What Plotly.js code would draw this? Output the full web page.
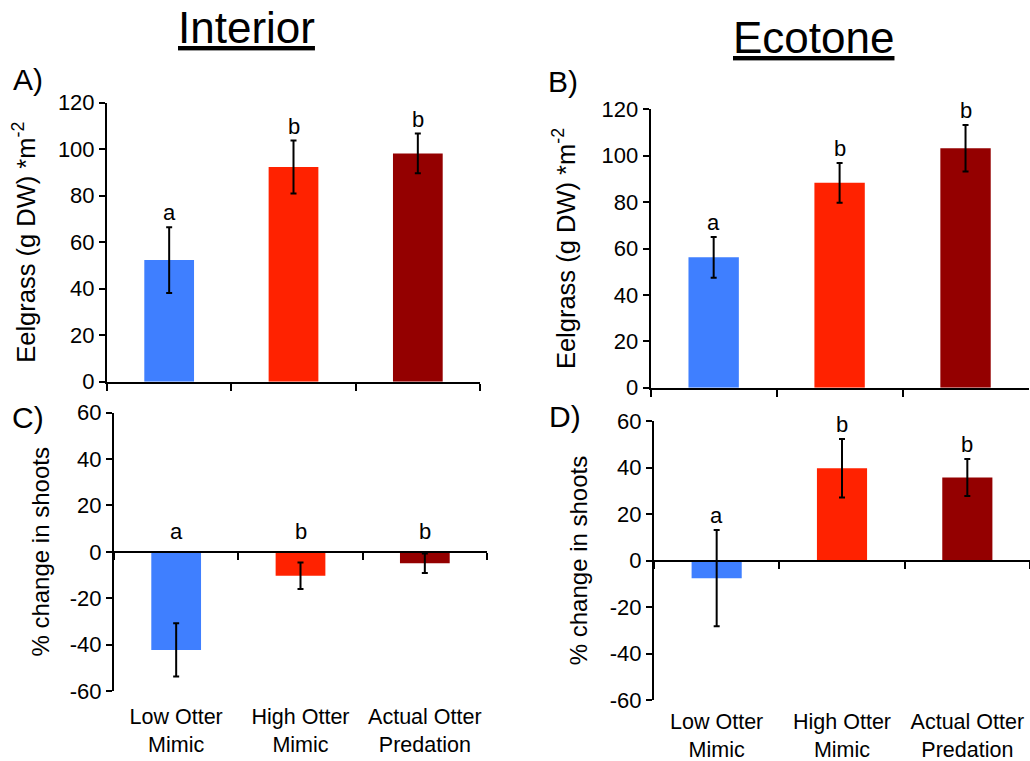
<!DOCTYPE html>
<html>
<head>
<meta charset="utf-8">
<script src="https://cdn.plot.ly/plotly-3.0.1.min.js"></script>
<style>html,body{margin:0;padding:0;background:#fff;}#chart{width:1030px;height:761px;}</style>
</head>
<body>
<div id="chart"></div>
<script>
const categories = ['Low Otter<br>Mimic', 'High Otter<br>Mimic', 'Actual Otter<br>Predation'];
const barColors = ['#3f7fff', '#ff2200', '#940000'];

const biomassTickVals = [0, 20, 40, 60, 80, 100, 120];
const biomassTickText = ['0', '20', '40', '60', '80', '100', '120'];
const shootsTickVals = [-60, -40, -20, 0, 20, 40, 60];
const shootsTickText = ['-60', '-40', '-20', '0', '20', '40', '60'];

const interiorBiomass = [52.3, 92.3, 98.2];
const interiorBiomassErr = [14.1, 11.4, 8.5];
const interiorBiomassLetters = ['a', 'b', 'b'];

const ecotoneBiomass = [56.2, 88.3, 103.2];
const ecotoneBiomassErr = [8.8, 8.6, 10.0];
const ecotoneBiomassLetters = ['a', 'b', 'b'];

const interiorShoots = [-42.3, -10.3, -4.9];
const interiorShootsErr = [11.5, 5.7, 4.2];
const interiorShootsLetters = ['a', 'b', 'b'];

const ecotoneShoots = [-7.6, 39.7, 35.7];
const ecotoneShootsErr = [20.7, 12.6, 8.0];
const ecotoneShootsLetters = ['a', 'b', 'b'];

const FONT = 'Liberation Sans, Arial, Helvetica, sans-serif';

function barTrace(vals, errs, xa, ya) {
  return {
    type: 'bar', x: categories, y: vals, xaxis: xa, yaxis: ya,
    width: 0.4,
    marker: {color: barColors, line: {width: 0}},
    error_y: {type: 'data', array: errs, visible: true, color: '#000', thickness: 2, width: 3},
    hoverinfo: 'skip', showlegend: false
  };
}

const traces = [
  barTrace(interiorBiomass, interiorBiomassErr, 'x', 'y'),
  barTrace(ecotoneBiomass, ecotoneBiomassErr, 'x2', 'y2'),
  barTrace(interiorShoots, interiorShootsErr, 'x3', 'y3'),
  barTrace(ecotoneShoots, ecotoneShootsErr, 'x4', 'y4')
];

const domA = {x: [107/1030, 480/1030], y: [1-381.7/761, 1-102.7/761]};
const domB = {x: [650.7/1030, 1028.5/1030], y: [1-387.7/761, 1-109.3/761]};
const domC = {x: [114/1030, 487/1030], y: [1-691/761, 1-412.7/761]};
const domD = {x: [654/1030, 1.0], y: [1-700/761, 1-421/761]};

function yax(dom, range, tv, tt, title, tsize, standoff, anchor) {
  return {
    domain: dom, range: range, anchor: anchor,
    tickmode: 'array', tickvals: tv, ticktext: tt,
    showline: true, linecolor: '#000', linewidth: 2,
    ticks: 'outside', ticklen: 6, tickwidth: 2, tickcolor: '#000',
    showgrid: false, zeroline: false,
    tickfont: {family: FONT, size: 22, color: '#000'},
    title: {text: title, font: {family: FONT, size: tsize, color: '#000'}, standoff: standoff},
    fixedrange: true
  };
}

function xax(dom, anchor, extra) {
  return Object.assign({
    domain: dom, anchor: anchor, type: 'category',
    categoryorder: 'array', categoryarray: categories, range: [-0.5, 2.5],
    showline: true, linecolor: '#000', linewidth: 2,
    ticks: 'outside', ticklen: 7, tickwidth: 2, tickcolor: '#000', tickson: 'boundaries',
    showgrid: false, zeroline: false,
    tickfont: {family: FONT, size: 21.5, color: '#000'},
    fixedrange: true
  }, extra);
}

const midC = (domC.y[0] + domC.y[1]) / 2;
const midD = (domD.y[0] + domD.y[1]) / 2;

const annotations = [];
function addLetters(vals, errs, letters, xa, ya) {
  vals.forEach((v, i) => {
    const top = v + errs[i];
    annotations.push({
      x: categories[i], y: Math.max(top, 0), xref: xa, yref: ya,
      text: letters[i], showarrow: false, yanchor: 'bottom',
      yshift: top < 0 ? 6 : 0,
      font: {family: FONT, size: 22, color: '#000'}
    });
  });
}
addLetters(interiorBiomass, interiorBiomassErr, interiorBiomassLetters, 'x', 'y');
addLetters(ecotoneBiomass, ecotoneBiomassErr, ecotoneBiomassLetters, 'x2', 'y2');
addLetters(interiorShoots, interiorShootsErr, interiorShootsLetters, 'x3', 'y3');
addLetters(ecotoneShoots, ecotoneShootsErr, ecotoneShootsLetters, 'x4', 'y4');

function paperText(text, px, py, size) {
  annotations.push({
    text: text, x: px/1030, y: 1 - py/761, xref: 'paper', yref: 'paper',
    xanchor: 'center', yanchor: 'middle', showarrow: false,
    font: {family: FONT, size: size, color: '#000'}
  });
}
paperText('<u>Interior</u>', 246, 27, 44);
paperText('<u>Ecotone</u>', 813, 38, 44);
paperText('A)', 28, 80, 30);
paperText('B)', 563, 81, 30);
paperText('C)', 28, 417, 30);
paperText('D)', 565, 416, 30);

const eelTitle = 'Eelgrass (g DW) *m<sup>-2</sup>';
const shootTitle = '% change in shoots';

const layout = {
  width: 1030, height: 761,
  margin: {l: 0, r: 0, t: 0, b: 0},
  paper_bgcolor: '#fff', plot_bgcolor: 'rgba(0,0,0,0)',
  showlegend: false,
  font: {family: FONT, color: '#000'},
  xaxis: xax(domA.x, 'y', {showticklabels: false}),
  yaxis: yax(domA.y, [0, 120], biomassTickVals, biomassTickText, eelTitle, 25.5, 15, 'x'),
  xaxis2: xax(domB.x, 'y2', {showticklabels: false}),
  yaxis2: yax(domB.y, [0, 120], biomassTickVals, biomassTickText, eelTitle, 25.5, 19, 'x2'),
  xaxis3: xax(domC.x, 'free', {position: midC, showticklabels: true, ticklabelstandoff: 145}),
  yaxis3: yax(domC.y, [-60, 60], shootsTickVals, shootsTickText, shootTitle, 24, 13, 'x3'),
  xaxis4: xax(domD.x, 'free', {position: midD, showticklabels: true, ticklabelstandoff: 142}),
  yaxis4: yax(domD.y, [-60, 60], shootsTickVals, shootsTickText, shootTitle, 24, 15, 'x4'),
  annotations: annotations
};

Plotly.newPlot('chart', traces, layout, {staticPlot: true, displayModeBar: false});
</script>
</body>
</html>
